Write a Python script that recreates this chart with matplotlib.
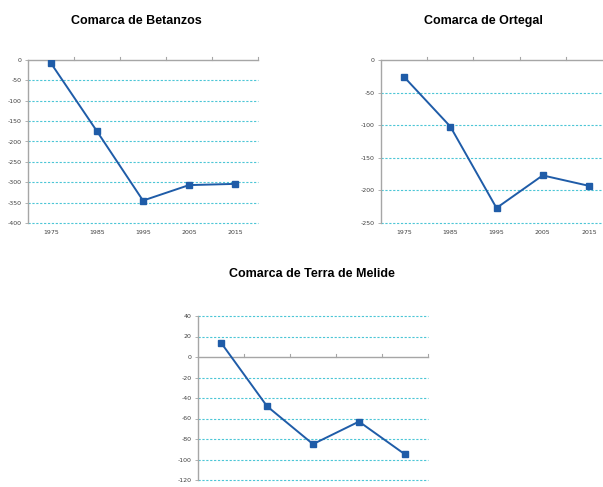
import matplotlib
matplotlib.use("Agg")
import matplotlib.pyplot as plt

years = ["1975", "1985", "1995", "2005", "2015"]

betanzos = [-8, -175, -345, -307, -304]
ortegal = [-26, -102, -227, -177, -193]
melide = [14, -48, -85, -63, -95]

titles = ["Comarca de Betanzos", "Comarca de Ortegal", "Comarca de Terra de Melide"]

LINE = "#1F5CA8"
GRID = "#4CC6D6"
AXIS = "#A6A6A6"
TXT = "#404040"

W, H = 603, 487
fig = plt.figure(figsize=(W / 100, H / 100), dpi=100)
fig.patch.set_facecolor("white")


def px_axes(left, top, right, bottom):
    return fig.add_axes([left / W, 1 - bottom / H, (right - left) / W, (bottom - top) / H])


def draw(ax, vals, ymin, ymax, step):
    x = range(len(years))
    ax.plot(x, vals, color=LINE, lw=1.4, marker="s", ms=4.2, zorder=3)
    ax.set_xlim(-0.5, len(years) - 0.5)
    ax.set_ylim(ymin, ymax)
    yt = list(range(ymin, ymax + 1, step))
    ax.set_yticks(yt)
    ax.set_yticklabels([str(v) for v in yt])
    for v in yt:
        if v != 0:
            ax.axhline(v, color=GRID, lw=0.8, ls=(0, (2, 1.5)), zorder=1, clip_on=False)
    # category axis crosses at zero
    ax.axhline(0, color=AXIS, lw=1.0, zorder=2, clip_on=False)
    for b in range(1, len(years) + 1):
        ax.plot([b - 0.5, b - 0.5], [0, (ymax - ymin) * 0.02], color=AXIS, lw=0.8,
                zorder=2, clip_on=False)
    ax.set_xticks(list(x))
    ax.set_xticklabels(years)
    ax.tick_params(axis="x", length=0, labelsize=4.5, colors=TXT, pad=5)
    ax.tick_params(axis="y", length=2.5, width=0.6, color=AXIS, labelsize=4.5,
                   colors=TXT, pad=2)
    for s in ["top", "right", "bottom"]:
        ax.spines[s].set_visible(False)
    ax.spines["left"].set_color(AXIS)
    ax.spines["left"].set_linewidth(1.0)
    ax.set_facecolor("none")


ax1 = px_axes(28, 60, 258, 223)
draw(ax1, betanzos, -400, 0, 50)

ax2 = px_axes(381, 60, 612, 223)
draw(ax2, ortegal, -250, 0, 50)

ax3 = px_axes(198, 316, 428, 480)
draw(ax3, melide, -120, 40, 20)

fig.text(136 / W, 1 - 21 / H, titles[0], ha="center", va="center",
         fontsize=9, fontweight="bold", family="Liberation Sans")
fig.text(483 / W, 1 - 21 / H, titles[1], ha="center", va="center",
         fontsize=9, fontweight="bold", family="Liberation Sans")
fig.text(312 / W, 1 - 274 / H, titles[2], ha="center", va="center",
         fontsize=9, fontweight="bold", family="Liberation Sans")

fig.savefig("out.png", dpi=100)
